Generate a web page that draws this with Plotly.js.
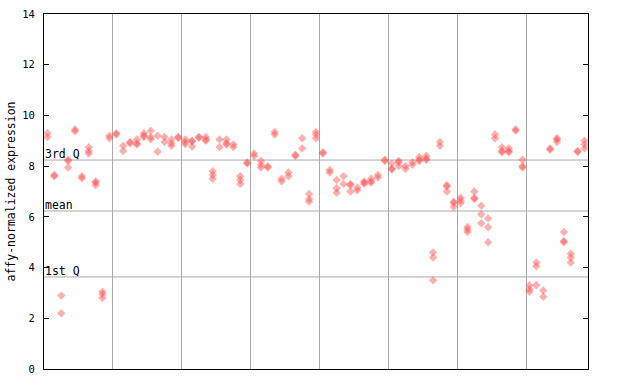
<!DOCTYPE html>
<html>
<head>
<meta charset="utf-8">
<script src="https://cdn.plot.ly/plotly-3.0.1.min.js"></script>
<style>html,body{margin:0;padding:0;background:#fff;}</style>
</head>
<body>
<div id="chart" style="width:640px;height:384px;"></div>
<script>
// Each inner list: replicate values of one sample (sample index = position)
const sampleValues = [
  [9.3, 9.15], [7.65, 7.6], [2.9, 2.2], [8.25, 8.2, 7.95], [9.45, 9.38],
  [7.6, 7.52], [8.75, 8.6, 8.5], [7.4, 7.35, 7.25], [3.05, 2.95, 2.8], [9.2, 9.1],
  [9.3, 9.25], [8.8, 8.6], [8.95, 8.9], [9.05, 8.9, 8.85], [9.3, 9.2, 9.15],
  [9.4, 9.15, 9.06], [9.2, 8.57], [9.15, 8.95], [9.05, 8.9, 8.8], [9.15, 9.12],
  [9.05, 8.95, 8.87], [9.0, 8.97, 8.77], [9.15, 9.12], [9.15, 9.05, 9.0], [7.8, 7.65, 7.5],
  [9.05, 8.75], [9.05, 8.9, 8.85], [8.85, 8.75], [7.6, 7.45, 7.3], [8.15, 8.1],
  [8.5, 8.4], [8.2, 8.05, 7.95], [8.0, 7.95], [9.35, 9.25], [7.5, 7.4],
  [7.75, 7.6], [8.45, 8.4], [9.1, 8.7], [6.9, 6.7, 6.6], [9.35, 9.25, 9.1],
  [8.55, 8.5], [7.85, 7.75], [7.45, 7.13, 6.95], [7.6, 7.3], [7.3, 7.25, 7.0],
  [7.15, 7.05], [7.4, 7.35, 7.3], [7.5, 7.4, 7.35], [7.65, 7.55], [8.25, 8.2],
  [8.1, 7.9, 7.88], [8.2, 8.15, 8.0], [8.0, 7.9], [8.15, 8.05], [8.35, 8.25, 8.2],
  [8.4, 8.3, 8.25], [4.6, 4.4, 3.5], [8.95, 8.8], [7.25, 7.2, 7.0], [6.6, 6.55, 6.4],
  [6.75, 6.65, 6.55], [5.6, 5.5, 5.4], [7.0, 6.75, 6.7], [6.44, 6.1, 5.75], [5.94, 5.59, 5.0],
  [9.25, 9.1], [8.75, 8.6, 8.55], [8.7, 8.6, 8.55], [9.45, 9.4], [8.25, 8.0, 7.95],
  [3.3, 3.15, 3.05], [4.2, 4.05, 3.3], [3.1, 2.85], [8.7, 8.65], [9.1, 9.05, 8.95],
  [5.4, 5.05, 5.0], [4.55, 4.4, 4.2], [8.6, 8.57], [9.0, 8.85, 8.7]
];
const q3Value = 8.24;
const meanValue = 6.23;
const q1Value = 3.63;
const yTicks = [0, 2, 4, 6, 8, 10, 12, 14];
const groupSize = 10;

const xs = [], ys = [];
sampleValues.forEach((vals, i) => vals.forEach(v => { xs.push(i); ys.push(v); }));
const nSamples = sampleValues.length;
const gridX = [];
for (let g = groupSize; g < nSamples; g += groupSize) gridX.push(g - 0.5);

const mono = "DejaVu Sans Mono, monospace";
const trace = {
  x: xs, y: ys, type: 'scatter', mode: 'markers',
  marker: {symbol: 'diamond', size: 6.5, color: 'rgba(255,80,80,0.45)', line: {width: 0}},
  hoverinfo: 'skip'
};
const refLines = [[q3Value, '3rd Q'], [meanValue, 'mean'], [q1Value, '1st Q']];
const layout = {
  width: 640, height: 384,
  margin: {l: 44, r: 52, t: 14, b: 15, pad: 0},
  paper_bgcolor: '#fff', plot_bgcolor: '#fff',
  showlegend: false,
  xaxis: {
    range: [-0.5, nSamples - 0.5], tickvals: gridX, showticklabels: false, ticks: '',
    showgrid: true, gridcolor: '#aaaaaa', gridwidth: 1, zeroline: false,
    showline: true, linecolor: '#000', linewidth: 1, mirror: true
  },
  yaxis: {
    range: [0, 14], tickvals: yTicks, ticks: 'inside', ticklen: 5, tickcolor: '#000',
    showgrid: false, zeroline: false,
    showline: true, linecolor: '#000', linewidth: 1, mirror: 'ticks',
    ticklabelstandoff: 6,
    tickfont: {family: mono, size: 10.5, color: '#000'},
    title: {text: 'affy-normalized expression', font: {family: mono, size: 11.5, color: '#000'}, standoff: 4}
  },
  shapes: refLines.map(([v]) => ({
    type: 'line', xref: 'paper', x0: 0, x1: 1, yref: 'y', y0: v, y1: v,
    line: {color: '#aaaaaa', width: 1}, layer: 'below'
  })),
  annotations: refLines.map(([v, t]) => ({
    xref: 'paper', x: 0, xanchor: 'left', yref: 'y', y: v, yanchor: 'bottom',
    text: t, showarrow: false, font: {family: mono, size: 11.5, color: '#000'}, xshift: -1, yshift: -3
  }))
};
Plotly.newPlot('chart', [trace], layout, {staticPlot: true, displayModeBar: false});
</script>
</body>
</html>
